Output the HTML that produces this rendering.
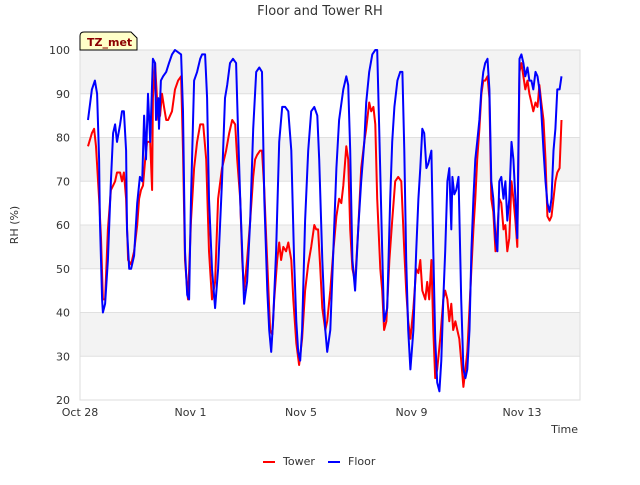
<!DOCTYPE html>
<html><head><meta charset="utf-8"><style>
body{margin:0;background:#fff;font-family:"Liberation Sans",sans-serif}
text{font-family:"DejaVu Sans","Liberation Sans",sans-serif}
</style></head><body>
<svg id="chart" width="640" height="480" xmlns="http://www.w3.org/2000/svg">
<rect width="640" height="480" fill="#fff"/>
<text x="320" y="15" text-anchor="middle" font-size="13" fill="#333">Floor and Tower RH</text>
<g id="bands"></g>
<g id="grid"></g>
<rect x="80" y="50" width="500" height="350" fill="none" stroke="#ddd"/>
<g id="ticks"></g>
<g id="series"></g>
<text x="578" y="433" text-anchor="end" font-size="11" fill="#333">Time</text>
<text x="18" y="225" text-anchor="middle" font-size="11" fill="#333" transform="rotate(-90 18 225)">RH (%)</text>
<g>
<path d="M80,50 L80,36 Q80,32 84,32 L131,32 L137,38 L137,50 Z" fill="#ffffc8" stroke="#000" stroke-width="1"/>
<text x="87" y="46" font-size="11" font-weight="bold" fill="#8b0000">TZ_met</text>
</g>
<g>
<g><line x1="263" y1="462" x2="275" y2="462" stroke="#f00" stroke-width="2"/><text x="283" y="465" font-size="11" fill="#333">Tower</text></g>
<g><line x1="328" y1="462" x2="340" y2="462" stroke="#00f" stroke-width="2"/><text x="348" y="465" font-size="11" fill="#333">Floor</text></g>
</g>
</svg>
<script>
const yTicks=[20,30,40,50,60,70,80,90,100];
const xTickDays=[0,4,8,12,16];
const xTickLabels=["Oct 28","Nov 1","Nov 5","Nov 9","Nov 13"];
const floorDays=[0.29,0.43,0.54,0.62,0.69,0.72,0.80,0.83,0.91,1.01,1.12,1.20,1.27,1.34,1.45,1.52,1.59,1.67,1.70,1.78,1.85,1.96,2.07,2.17,2.25,2.32,2.39,2.46,2.54,2.64,2.72,2.75,2.83,2.86,2.93,3.01,3.12,3.22,3.33,3.44,3.66,3.73,3.80,3.88,3.95,4.02,4.13,4.24,4.35,4.42,4.53,4.60,4.67,4.78,4.89,5.00,5.14,5.25,5.33,5.43,5.54,5.65,5.72,5.80,5.87,5.94,6.05,6.16,6.27,6.38,6.49,6.59,6.67,6.78,6.85,6.92,6.99,7.10,7.21,7.32,7.43,7.54,7.65,7.75,7.83,7.90,7.97,8.04,8.15,8.26,8.37,8.48,8.59,8.66,8.77,8.88,8.95,9.06,9.17,9.28,9.38,9.53,9.64,9.71,9.78,9.86,9.96,10.07,10.18,10.29,10.36,10.47,10.58,10.69,10.76,10.83,10.94,11.01,11.12,11.23,11.30,11.38,11.49,11.59,11.67,11.74,11.81,11.88,11.96,12.07,12.17,12.25,12.32,12.39,12.46,12.54,12.61,12.72,12.79,12.86,12.93,13.01,13.08,13.15,13.22,13.30,13.37,13.44,13.48,13.55,13.62,13.70,13.73,13.80,13.88,13.95,14.02,14.10,14.17,14.24,14.31,14.38,14.46,14.53,14.60,14.67,14.75,14.82,14.89,14.96,15.04,15.11,15.18,15.25,15.33,15.40,15.47,15.54,15.62,15.69,15.76,15.83,15.91,15.98,16.05,16.12,16.20,16.27,16.34,16.41,16.49,16.56,16.63,16.70,16.78,16.85,16.92,17.00,17.07,17.14,17.21,17.28,17.36,17.43];
const floorValues=[84,91,93,90,75,61,43,40,42,52,70,81,83,79,83,86,86,77,59,50,50,53,65,71,70,85,75,90,79,98,97,84,89,82,93,94,95,97,99,100,99,86,54,44,43,66,93,95,98,99,99,89,66,50,41,50,70,89,92,97,98,97,82,66,54,42,47,61,82,95,96,95,66,45,36,31,38,54,79,87,87,86,77,52,38,31,29,36,61,77,86,87,85,75,52,36,31,36,54,73,84,91,94,92,77,52,45,59,70,79,88,95,99,100,100,82,54,38,41,66,79,87,93,95,95,77,52,36,27,36,54,66,73,82,81,73,74,77,54,34,24,22,29,43,54,70,73,59,71,67,68,71,63,43,27,25,27,36,54,66,75,79,84,91,95,97,98,91,70,66,57,54,70,71,66,70,61,66,79,75,66,57,98,99,97,94,96,93,93,91,95,94,91,86,77,70,65,63,66,77,82,91,91,94];
const towerDays=[0.29,0.43,0.51,0.58,0.69,0.76,0.83,0.91,1.01,1.12,1.20,1.27,1.34,1.45,1.52,1.59,1.67,1.74,1.85,1.96,2.07,2.14,2.21,2.28,2.36,2.43,2.54,2.61,2.64,2.72,2.75,2.83,2.90,2.97,3.04,3.12,3.19,3.26,3.33,3.44,3.55,3.66,3.73,3.80,3.91,4.02,4.13,4.24,4.35,4.46,4.57,4.67,4.78,4.89,5.00,5.14,5.29,5.40,5.51,5.62,5.69,5.80,5.87,5.94,6.05,6.16,6.27,6.34,6.41,6.52,6.59,6.67,6.74,6.81,6.88,6.96,7.03,7.14,7.21,7.28,7.36,7.46,7.54,7.65,7.72,7.83,7.93,8.04,8.15,8.26,8.37,8.48,8.55,8.62,8.70,8.77,8.88,8.95,9.06,9.17,9.28,9.38,9.46,9.53,9.64,9.71,9.78,9.86,9.96,10.07,10.18,10.29,10.36,10.47,10.54,10.62,10.69,10.76,10.87,10.94,11.01,11.09,11.20,11.30,11.41,11.52,11.63,11.74,11.81,11.88,11.96,12.07,12.17,12.25,12.32,12.39,12.50,12.57,12.64,12.72,12.79,12.86,12.93,13.04,13.15,13.22,13.30,13.37,13.44,13.51,13.59,13.66,13.73,13.80,13.88,13.95,14.02,14.10,14.17,14.24,14.31,14.38,14.46,14.53,14.60,14.67,14.75,14.82,14.89,14.96,15.04,15.11,15.18,15.25,15.33,15.40,15.47,15.54,15.62,15.69,15.76,15.83,15.91,15.98,16.05,16.12,16.20,16.27,16.34,16.41,16.49,16.56,16.63,16.70,16.78,16.85,16.92,17.00,17.07,17.14,17.21,17.28,17.36,17.43];
const towerValues=[78,81,82,78,66,57,43,43,59,68,69,70,72,72,70,72,66,52,51,54,60,66,68,69,75,79,79,68,89,97,93,84,85,90,87,84,84,85,86,91,93,94,77,52,43,61,73,79,83,83,75,54,43,47,66,73,77,81,84,83,75,66,52,45,52,61,71,75,76,77,77,68,57,47,36,35,43,52,56,52,55,54,56,52,43,33,28,34,45,51,55,60,59,59,50,41,36,38,45,54,62,66,65,69,78,75,59,50,47,59,73,79,82,88,86,87,83,66,50,45,36,38,52,61,70,71,70,54,45,38,34,41,50,49,52,45,43,47,43,52,36,25,27,34,43,45,43,38,42,36,38,36,34,29,23,27,31,41,50,59,66,75,82,90,93,93,94,89,66,63,54,59,66,65,59,60,54,57,70,66,61,55,95,97,94,91,93,90,88,86,88,87,92,88,84,75,62,61,62,66,70,72,73,84];

const NS="http://www.w3.org/2000/svg";
const X0=80,X1=580,Y0=400,Y1=50,DAYS=18.1;
function xScale(d){return X0+d/DAYS*(X1-X0);}
function yScale(v){return Y0-(v-20)/80*(Y0-Y1);}
function mk(tag,attrs,parent){const e=document.createElementNS(NS,tag);for(const k in attrs)e.setAttribute(k,attrs[k]);parent.appendChild(e);return e;}
const bands=document.getElementById('bands'),grid=document.getElementById('grid'),ticks=document.getElementById('ticks'),series=document.getElementById('series');
for(let i=0;i<yTicks.length-1;i++){
  if(i%2===1){const r=mk('rect',{x:X0,y:yScale(yTicks[i+1]),width:X1-X0,height:yScale(yTicks[i])-yScale(yTicks[i+1]),fill:'#f3f3f3'},bands);
  
  }
}
yTicks.forEach(v=>{
  const l=mk('line',{x1:X0,x2:X1,y1:yScale(v),y2:yScale(v),stroke:'#e0e0e0'},grid);
  
  
  const t=mk('text',{x:X0-10,y:yScale(v)+4,'text-anchor':'end','font-size':11,fill:'#333'},ticks);
  
  
  t.textContent=v;
});
xTickDays.forEach((d,i)=>{
  const t=mk('text',{x:xScale(d),y:416,'text-anchor':'middle','font-size':11,fill:'#333'},ticks);
  
  
  t.textContent=xTickLabels[i];
});
function line(days,vals,color,name){
  const d=days.map((t,i)=>(i?'L':'M')+xScale(t).toFixed(1)+','+yScale(vals[i]).toFixed(1)).join('');
  const p=mk('path',{d:d,fill:'none',stroke:color,'stroke-width':2,'stroke-linejoin':'round'},series);
  
  
}
line(towerDays,towerValues,'#ff0000','tower-line');
line(floorDays,floorValues,'#0000ff','floor-line');
</script>
</body></html>
